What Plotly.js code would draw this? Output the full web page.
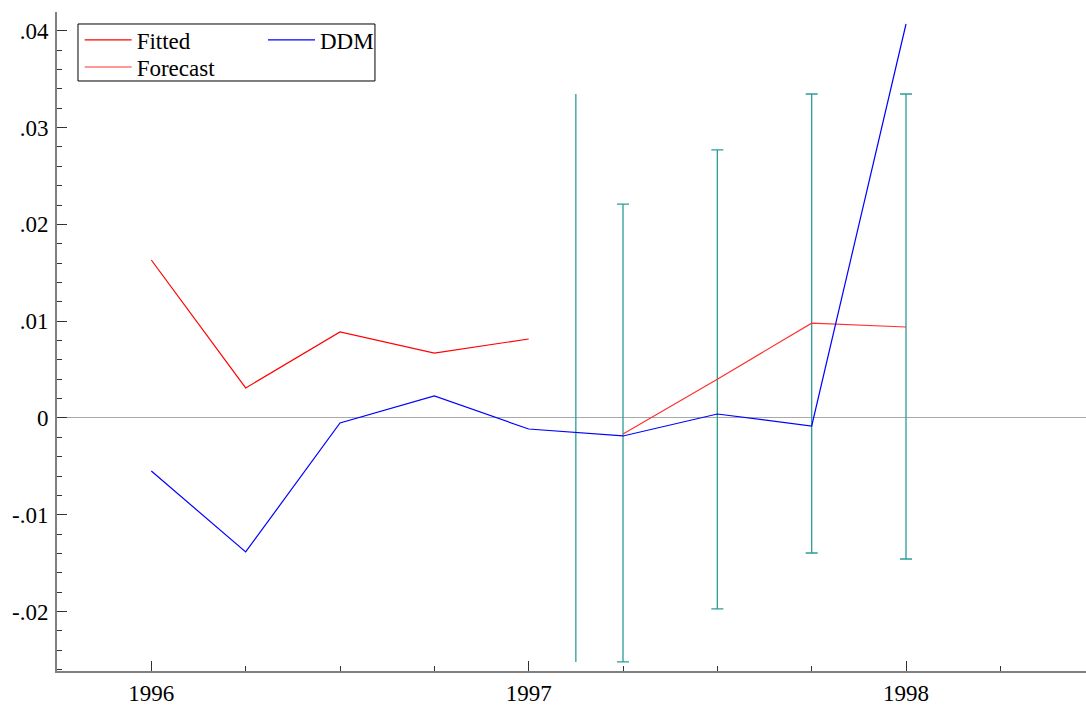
<!DOCTYPE html>
<html>
<head>
<meta charset="utf-8">
<script src="https://cdn.plot.ly/plotly-3.0.1.min.js"></script>
<style>html,body{margin:0;padding:0;background:#fff;}#chart{width:1086px;height:705px;}</style>
</head>
<body>
<div id="chart"></div>
<script>
// Quarterly dates (decimal years)
const fittedDates = [1996.0, 1996.25, 1996.5, 1996.75, 1997.0];
const fittedValues = [0.01632, 0.0031, 0.00888, 0.00671, 0.00816];

const forecastDates = [1997.25, 1997.5, 1997.75, 1998.0];
const forecastValues = [-0.00165, 0.0040, 0.0098, 0.0094];

const ddmDates = [1996.0, 1996.25, 1996.5, 1996.75, 1997.0, 1997.25, 1997.5, 1997.75, 1998.0];
const ddmValues = [-0.00548, -0.01384, -0.00052, 0.00227, -0.00114, -0.00186, 0.00041, -0.00083, 0.0407];

// Forecast interval bands (with caps)
const bandDates = [1997.25, 1997.5, 1997.75, 1998.0];
const bandUpper = [0.0221, 0.02769, 0.03347, 0.03347];
const bandLower = [-0.0252, -0.01973, -0.01395, -0.01457];

// Extra interval line without caps
const extraDates = [1997.125];
const extraUpper = [0.03347];
const extraLower = [-0.0252];

const yTickVals = [-0.02, -0.01, 0, 0.01, 0.02, 0.03, 0.04];
const yTickText = ['-.02', '-.01', '0', '.01', '.02', '.03', '.04'];

const font = {family: '"Liberation Serif", "Times New Roman", serif', size: 23, color: '#000'};
const teal = '#2e9c97';

function band(dates, up, lo, capw, name) {
  const mid = up.map((u, i) => (u + lo[i]) / 2);
  return {
    x: dates, y: mid, type: 'scatter', mode: 'markers',
    marker: {size: 1, color: 'rgba(0,0,0,0)'},
    showlegend: false, hoverinfo: 'skip', name: name,
    error_y: {type: 'data', symmetric: false,
      array: up.map((u, i) => u - mid[i]),
      arrayminus: lo.map((l, i) => mid[i] - l),
      color: teal, thickness: 1.3, width: capw}
  };
}

const traces = [
  band(extraDates, extraUpper, extraLower, 0, 'extra'),
  band(bandDates, bandUpper, bandLower, 6, 'bands'),
  {x: fittedDates, y: fittedValues, type: 'scatter', mode: 'lines', name: 'Fitted',
   line: {color: '#ff0000', width: 1.2}, legend: 'legend'},
  {x: forecastDates, y: forecastValues, type: 'scatter', mode: 'lines', name: 'Forecast',
   line: {color: '#ff3030', width: 1.2}, legend: 'legend3'},
  {x: ddmDates, y: ddmValues, type: 'scatter', mode: 'lines', name: 'DDM',
   line: {color: '#0000ff', width: 1.2}, legend: 'legend2'}
];

function leg(x, y) {
  return {x: x, y: y, xanchor: 'left', yanchor: 'middle', itemwidth: 47,
    bgcolor: 'rgba(0,0,0,0)', borderwidth: 0, font: font, itemclick: false};
}

const layout = {
  width: 1086, height: 705,
  margin: {l: 57, r: 0, t: 12, b: 34},
  paper_bgcolor: '#fff', plot_bgcolor: '#fff',
  font: font,
  showlegend: true,
  xaxis: {
    range: [1995.75, 1998.477],
    tickmode: 'linear', tick0: 1996, dtick: 1, tickformat: 'd',
    ticks: 'inside', ticklen: 10, tickwidth: 1, tickcolor: '#333',
    minor: {tick0: 1996, dtick: 0.25, ticks: 'inside', ticklen: 5, tickwidth: 1, tickcolor: '#333', showgrid: false},
    showline: true, linecolor: '#808080', linewidth: 2,
    showgrid: false, zeroline: false,
    tickfont: font, fixedrange: true
  },
  yaxis: {
    range: [-0.02614, 0.04194],
    tickmode: 'array', tickvals: yTickVals, ticktext: yTickText,
    ticks: 'inside', ticklen: 10, tickwidth: 1, tickcolor: '#333',
    minor: {tick0: 0, dtick: 0.002, ticks: 'inside', ticklen: 5, tickwidth: 1, tickcolor: '#333', showgrid: false},
    showline: true, linecolor: '#808080', linewidth: 2,
    showgrid: false, ticklabelstandoff: 2,
    zeroline: true, zerolinecolor: '#a8a8a8', zerolinewidth: 1,
    tickfont: font, fixedrange: true
  },
  legend: leg(0.022, 0.9575),
  legend3: leg(0.022, 0.9165),
  legend2: leg(0.2002, 0.9575),
  shapes: [{
    type: 'rect', xref: 'paper', yref: 'paper',
    x0: 0.0204, x1: 0.309, y0: 0.8953, y1: 0.9818,
    line: {color: '#000', width: 1}, fillcolor: 'rgba(0,0,0,0)', layer: 'above'
  }]
};

Plotly.newPlot('chart', traces, layout, {displayModeBar: false, staticPlot: true});
</script>
</body>
</html>
